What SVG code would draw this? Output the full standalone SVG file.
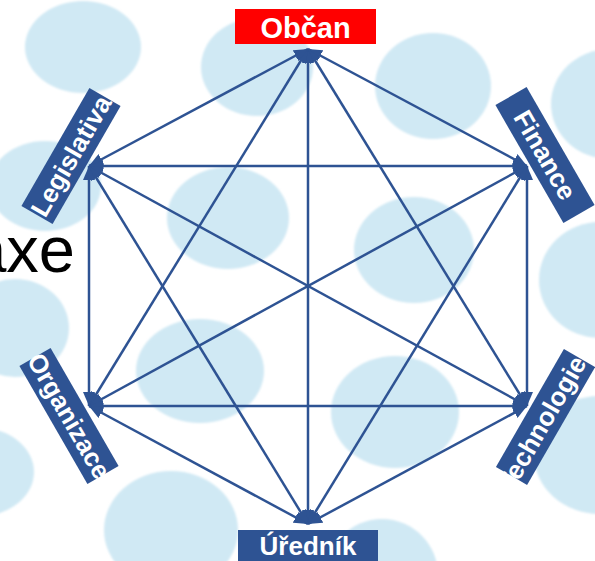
<svg xmlns="http://www.w3.org/2000/svg" width="595" height="561" viewBox="0 0 595 561">
<defs>
<style>
.bg{fill:#D0E9F4}
.edge{stroke:#2E5393;stroke-width:2.5;fill:none;marker-start:url(#ah);marker-end:url(#ah)}
.box{fill:#2E5393}
.lbl{font-family:"Liberation Sans",Arial,sans-serif;font-weight:bold;font-size:26px;fill:#fff;text-anchor:middle}
</style>
<marker id="ah" viewBox="0 0 14 12" refX="14" refY="6" markerWidth="14" markerHeight="12" markerUnits="userSpaceOnUse" orient="auto-start-reverse">
<path d="M0,0 L14,6 L0,12 z" fill="#2E5393"/>
</marker>
<filter id="soft" x="-10%" y="-10%" width="120%" height="120%"><feGaussianBlur stdDeviation="1.2"/></filter>
</defs>
<rect width="595" height="561" fill="#fff"/>
<g id="background" filter="url(#soft)">
<ellipse class="bg" cx="83" cy="47" rx="58" ry="46"/>
<ellipse class="bg" cx="257" cy="67" rx="56" ry="49"/>
<ellipse class="bg" cx="433" cy="86" rx="58" ry="53"/>
<ellipse class="bg" cx="610" cy="104" rx="59" ry="55"/>
<ellipse class="bg" cx="45" cy="186" rx="56" ry="45"/>
<ellipse class="bg" cx="228" cy="218" rx="61" ry="51"/>
<ellipse class="bg" cx="414" cy="250" rx="60" ry="53"/>
<ellipse class="bg" cx="600" cy="280" rx="61" ry="58"/>
<ellipse class="bg" cx="15" cy="328" rx="54" ry="49"/>
<ellipse class="bg" cx="200" cy="371" rx="64" ry="52"/>
<ellipse class="bg" cx="395" cy="412" rx="64" ry="56"/>
<ellipse class="bg" cx="600" cy="455" rx="66" ry="59"/>
<ellipse class="bg" cx="-20" cy="472" rx="54" ry="44"/>
<ellipse class="bg" cx="171" cy="530" rx="67" ry="59"/>
<ellipse class="bg" cx="382" cy="575" rx="56" ry="56"/>
</g>
<text x="75" y="272" font-family="'Liberation Sans',Arial,sans-serif" font-size="65" text-anchor="end" fill="#000">axe</text>
<g id="connectors">
<line class="edge" x1="308" y1="49" x2="527" y2="166"/>
<line class="edge" x1="308" y1="49" x2="527" y2="406"/>
<line class="edge" x1="308" y1="49" x2="308" y2="524"/>
<line class="edge" x1="308" y1="49" x2="89" y2="406"/>
<line class="edge" x1="308" y1="49" x2="89" y2="166"/>
<line class="edge" x1="527" y1="166" x2="527" y2="406"/>
<line class="edge" x1="527" y1="166" x2="308" y2="524"/>
<line class="edge" x1="527" y1="166" x2="89" y2="406"/>
<line class="edge" x1="527" y1="166" x2="89" y2="166"/>
<line class="edge" x1="527" y1="406" x2="308" y2="524"/>
<line class="edge" x1="527" y1="406" x2="89" y2="406"/>
<line class="edge" x1="527" y1="406" x2="89" y2="166"/>
<line class="edge" x1="308" y1="524" x2="89" y2="406"/>
<line class="edge" x1="308" y1="524" x2="89" y2="166"/>
<line class="edge" x1="89" y1="406" x2="89" y2="166"/>
</g>
<g id="obcan">
<rect x="235" y="9" width="141" height="35" fill="#FF0000"/>
<text class="lbl" x="305.5" y="38" style="font-size:29px">Občan</text>
</g>
<g id="finance" transform="translate(545,155) rotate(60)">
<rect class="box" x="-68" y="-18" width="136" height="36"/>
<text class="lbl" x="0" y="9">Finance</text>
</g>
<g id="technologie" transform="translate(545.5,417) rotate(-60)">
<rect class="box" x="-68" y="-18" width="136" height="36"/>
<text class="lbl" x="68" y="9" style="text-anchor:end">Technologie</text>
</g>
<g id="urednik">
<rect class="box" x="238" y="530" width="140" height="35"/>
<text class="lbl" x="308" y="555">Úředník</text>
</g>
<g id="organizace" transform="translate(69,416) rotate(60)">
<rect class="box" x="-68" y="-18" width="136" height="36"/>
<text class="lbl" x="0" y="9">Organizace</text>
</g>
<g id="legislativa" transform="translate(71,156) rotate(-60)">
<rect class="box" x="-68" y="-18" width="136" height="36"/>
<text class="lbl" x="0" y="9">Legislativa</text>
</g>
</svg>
